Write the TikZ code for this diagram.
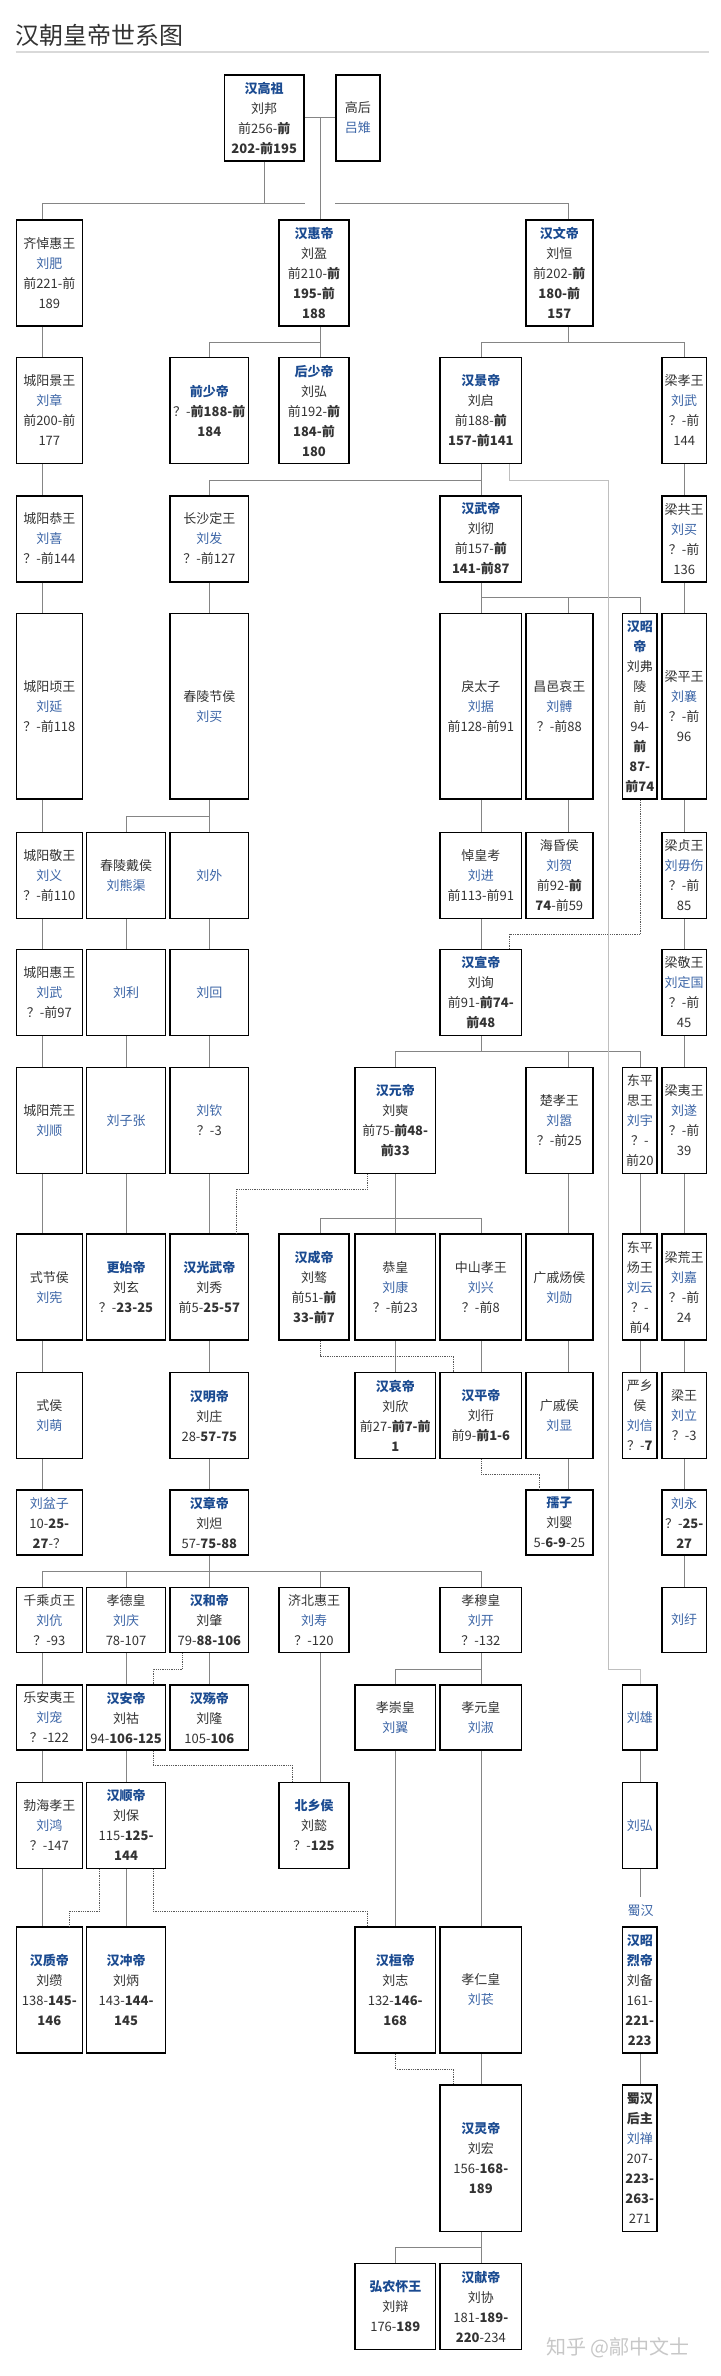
\documentclass[tikz,border=0pt]{standalone}
\usepackage{fontspec}
\setmainfont{Noto Sans CJK SC}
\usetikzlibrary{positioning}

\definecolor{txt}{HTML}{333333}
\definecolor{empblue}{HTML}{1B4B91}
\definecolor{nmblue}{HTML}{3D66A7}
\definecolor{lnkgray}{HTML}{858585}

\newcommand{\emname}[1]{\textcolor{empblue}{\textbf{#1}}}
\newcommand{\lkname}[1]{\textcolor{nmblue}{#1}}

% box centres of the columns
\def\xA{49.35}  \def\xB{126.05} \def\xC{209.35}
\def\xD{314}    \def\xE{395.25} \def\xF{480.85}
\def\xG{559.3}  \def\xH{639.75} \def\xI{684.2}
% where the lines of each column run
\def\lA{42.7}   \def\lB{126.2}  \def\lC{209.8}
\def\lD{320}    \def\lE{395.8}  \def\lF{481.2}
\def\lG{568}    \def\lH{640.5}  \def\lI{684.6}

\tikzset{
    psn/.style={draw=black, line width=1.6pt, fill=white, inner sep=0pt,
        align=center, text=txt, font=\fontsize{13}{20}\selectfont},
    wA/.style={minimum width=66},   wB/.style={minimum width=78.8},
    wC/.style={minimum width=78.4}, wD/.style={minimum width=70.3},
    wE/.style={minimum width=80.2}, wF/.style={minimum width=81.6},
    wG/.style={minimum width=67.1}, wH/.style={minimum width=34.8},
    wI/.style={minimum width=44.9},
    h3/.style={minimum height=65.2}, h4/.style={minimum height=86},
    h5/.style={minimum height=106.2}, h6/.style={minimum height=126.5},
    h7/.style={minimum height=146.5}, h9/.style={minimum height=185.8},
    lnk/.style={draw=lnkgray, line width=1pt},
    adopt/.style={draw=black!65, line width=0.8pt, densely dotted},
    far/.style={draw=black!25, line width=0.9pt},
}

\begin{document}
\begin{tikzpicture}[x=1pt, y=-1pt]
    \useasboundingbox (0,0) rectangle (720,2376);

    \node[anchor=base west, text=black!80, inner sep=0pt,
        font=\fontsize{24}{24}\selectfont] (title) at (15.6,45) {汉朝皇帝世系图};
    \draw[black!15, line width=2pt] (title.base west |- 0,52) -- (709,52);

    % generation 1
    \node[psn, h4, minimum width=79.7] (gaozu) at (264.2,118)
        {\emname{汉高祖}\\刘邦\\前256-\textbf{前}\\\textbf{202-前195}};
    \node[psn, h4, minimum width=44] (gaohou) at (357.85,118) {高后\\\lkname{吕雉}};

    % generation 2
    \node[psn, wA, h5] (qidh) at (\xA,273) {齐悼惠王\\\lkname{刘肥}\\前221-前\\189};
    \node[psn, wD, h5] (hui) at (\xD,273)
        {\emname{汉惠帝}\\刘盈\\前210-\textbf{前}\\\textbf{195-前}\\\textbf{188}};
    \node[psn, wG, h5] (wen) at (\xG,273)
        {\emname{汉文帝}\\刘恒\\前202-\textbf{前}\\\textbf{180-前}\\\textbf{157}};

    % generation 3
    \node[psn, wA, h5] (cyjing) at (\xA,410.5) {城阳景王\\\lkname{刘章}\\前200-前\\177};
    \node[psn, wC, h5] (qianshao) at (\xC,410.5) {\emname{前少帝}\\？-\textbf{前188-前}\\\textbf{184}};
    \node[psn, wD, h5] (houshao) at (\xD,410.5)
        {\emname{后少帝}\\刘弘\\前192-\textbf{前}\\\textbf{184-前}\\\textbf{180}};
    \node[psn, wF, h5] (jing) at (\xF,410.5)
        {\emname{汉景帝}\\刘启\\前188-\textbf{前}\\\textbf{157-前141}};
    \node[psn, wI, h5] (liangxiao) at (\xI,410.5) {梁孝王\\\lkname{刘武}\\？-前\\144};

    % generation 4
    \node[psn, wA, h4] (cygong) at (\xA,538.85) {城阳恭王\\\lkname{刘喜}\\？-前144};
    \node[psn, wC, h4] (csding) at (\xC,538.85) {长沙定王\\\lkname{刘发}\\？-前127};
    \node[psn, wF, h4] (wu) at (\xF,538.85)
        {\emname{汉武帝}\\刘彻\\前157-\textbf{前}\\\textbf{141-前87}};
    \node[psn, wI, h4] (lianggong) at (\xI,538.85) {梁共王\\\lkname{刘买}\\？-前\\136};

    % generation 5
    \node[psn, wA, h9] (cyqing) at (\xA,706.35) {城阳顷王\\\lkname{刘延}\\？-前118};
    \node[psn, wC, h9] (cljie) at (\xC,706.35) {春陵节侯\\\lkname{刘买}};
    \node[psn, wF, h9] (lie) at (\xF,706.35) {戾太子\\\lkname{刘据}\\前128-前91};
    \node[psn, wG, h9] (changyi) at (\xG,706.35) {昌邑哀王\\\lkname{刘髆}\\？-前88};
    \node[psn, wH, h9] (zhao) at (\xH,706.35)
        {\emname{汉昭}\\\emname{帝}\\刘弗\\陵\\前\\94-\\\textbf{前}\\\textbf{87-}\\\textbf{前74}};
    \node[psn, wI, h9] (liangping) at (\xI,706.35) {梁平王\\\lkname{刘襄}\\？-前\\96};

    % generation 6
    \node[psn, wA, h4] (cyjingw) at (\xA,875.35) {城阳敬王\\\lkname{刘义}\\？-前110};
    \node[psn, wB, h4] (cldai) at (\xB,875.35) {春陵戴侯\\\lkname{刘熊渠}};
    \node[psn, wC, h4] (liuwai) at (\xC,875.35) {\lkname{刘外}};
    \node[psn, wF, h4] (daohk) at (\xF,875.35) {悼皇考\\\lkname{刘进}\\前113-前91};
    \node[psn, wG, h4] (haihun) at (\xG,875.35)
        {海昏侯\\\lkname{刘贺}\\前92-\textbf{前}\\\textbf{74}-前59};
    \node[psn, wI, h4] (liangzhen) at (\xI,875.35) {梁贞王\\\lkname{刘毋伤}\\？-前\\85};

    % generation 7
    \node[psn, wA, h4] (cyhui) at (\xA,992.5) {城阳惠王\\\lkname{刘武}\\？-前97};
    \node[psn, wB, h4] (liuli) at (\xB,992.5) {\lkname{刘利}};
    \node[psn, wC, h4] (liuhui) at (\xC,992.5) {\lkname{刘回}};
    \node[psn, wF, h4] (xuan) at (\xF,992.5)
        {\emname{汉宣帝}\\刘询\\前91-\textbf{前74-}\\\textbf{前48}};
    \node[psn, wI, h4] (liangjing) at (\xI,992.5) {梁敬王\\\lkname{刘定国}\\？-前\\45};

    % generation 8
    \node[psn, wA, h5] (cyhuang) at (\xA,1120.5) {城阳荒王\\\lkname{刘顺}};
    \node[psn, wB, h5] (liuzz) at (\xB,1120.5) {\lkname{刘子张}};
    \node[psn, wC, h5] (liuqin) at (\xC,1120.5) {\lkname{刘钦}\\？-3};
    \node[psn, wE, h5] (yuan) at (\xE,1120.5)
        {\emname{汉元帝}\\刘奭\\前75-\textbf{前48-}\\\textbf{前33}};
    \node[psn, wG, h5] (chuxiao) at (\xG,1120.5) {楚孝王\\\lkname{刘嚣}\\？-前25};
    \node[psn, wH, h5] (dpsi) at (\xH,1120.5) {东平\\思王\\\lkname{刘宇}\\？-\\前20};
    \node[psn, wI, h5] (liangyi) at (\xI,1120.5) {梁夷王\\\lkname{刘遂}\\？-前\\39};

    % generation 9
    \node[psn, wA, h5] (shijie) at (\xA,1287.15) {式节侯\\\lkname{刘宪}};
    \node[psn, wB, h5] (gengshi) at (\xB,1287.15) {\emname{更始帝}\\刘玄\\？-\textbf{23-25}};
    \node[psn, wC, h5] (guangwu) at (\xC,1287.15) {\emname{汉光武帝}\\刘秀\\前5-\textbf{25-57}};
    \node[psn, wD, h5] (cheng) at (\xD,1287.15)
        {\emname{汉成帝}\\刘骜\\前51-\textbf{前}\\\textbf{33-前7}};
    \node[psn, wE, h5] (gonghuang) at (\xE,1287.15) {恭皇\\\lkname{刘康}\\？-前23};
    \node[psn, wF, h5] (zsxiao) at (\xF,1287.15) {中山孝王\\\lkname{刘兴}\\？-前8};
    \node[psn, wG, h5] (gqyang) at (\xG,1287.15) {广戚炀侯\\\lkname{刘勋}};
    \node[psn, wH, h5] (dpyang) at (\xH,1287.15) {东平\\炀王\\\lkname{刘云}\\？-\\前4};
    \node[psn, wI, h5] (lianghuang) at (\xI,1287.15) {梁荒王\\\lkname{刘嘉}\\？-前\\24};

    % generation 10
    \node[psn, wA, h4] (shihou) at (\xA,1415.5) {式侯\\\lkname{刘萌}};
    \node[psn, wC, h4] (ming) at (\xC,1415.5) {\emname{汉明帝}\\刘庄\\28-\textbf{57-75}};
    \node[psn, wE, h4] (ai) at (\xE,1415.5)
        {\emname{汉哀帝}\\刘欣\\前27-\textbf{前7-前}\\\textbf{1}};
    \node[psn, wF, h4] (ping) at (\xF,1415.5) {\emname{汉平帝}\\刘衎\\前9-\textbf{前1-6}};
    \node[psn, wG, h4] (gqhou) at (\xG,1415.5) {广戚侯\\\lkname{刘显}};
    \node[psn, wH, h4] (yanxiang) at (\xH,1415.5) {严乡\\侯\\\lkname{刘信}\\？-\textbf{7}};
    \node[psn, wI, h4] (liangwang) at (\xI,1415.5) {梁王\\\lkname{刘立}\\？-3};

    % generation 11
    \node[psn, wA, h3] (penzi) at (\xA,1522.65) {\lkname{刘盆子}\\10-\textbf{25-}\\\textbf{27}-？};
    \node[psn, wC, h3] (zhang) at (\xC,1522.65) {\emname{汉章帝}\\刘炟\\57-\textbf{75-88}};
    \node[psn, wG, h3] (ruzi) at (\xG,1522.65) {\emname{孺子}\\刘婴\\5-\textbf{6-9}-25};
    \node[psn, wI, h3] (liuyong) at (\xI,1522.65) {\lkname{刘永}\\？-\textbf{25-}\\\textbf{27}};

    % generation 12
    \node[psn, wA, h3] (qczhen) at (\xA,1620) {千乘贞王\\\lkname{刘伉}\\？-93};
    \node[psn, wB, h3] (xiaode) at (\xB,1620) {孝德皇\\\lkname{刘庆}\\78-107};
    \node[psn, wC, h3] (he) at (\xC,1620) {\emname{汉和帝}\\刘肇\\79-\textbf{88-106}};
    \node[psn, wD, h3] (jbhui) at (\xD,1620) {济北惠王\\\lkname{刘寿}\\？-120};
    \node[psn, wF, h3] (xiaomu) at (\xF,1620) {孝穆皇\\\lkname{刘开}\\？-132};
    \node[psn, wI, h3] (liuyu) at (\xI,1620) {\lkname{刘纡}};

    % generation 13
    \node[psn, wA, h3] (layi) at (\xA,1717.5) {乐安夷王\\\lkname{刘宠}\\？-122};
    \node[psn, wB, h3] (an) at (\xB,1717.5) {\emname{汉安帝}\\刘祜\\94-\textbf{106-125}};
    \node[psn, wC, h3] (shang) at (\xC,1717.5) {\emname{汉殇帝}\\刘隆\\105-\textbf{106}};
    \node[psn, wE, h3] (xiaochong) at (\xE,1717.5) {孝崇皇\\\lkname{刘翼}};
    \node[psn, wF, h3] (xiaoyuan) at (\xF,1717.5) {孝元皇\\\lkname{刘淑}};
    \node[psn, wH, h3] (liuxiong) at (\xH,1717.5) {\lkname{刘雄}};

    % generation 14
    \node[psn, wA, h4] (bhxiao) at (\xA,1825.35) {勃海孝王\\\lkname{刘鸿}\\？-147};
    \node[psn, wB, h4] (shun) at (\xB,1825.35)
        {\emname{汉顺帝}\\刘保\\115-\textbf{125-}\\\textbf{144}};
    \node[psn, wD, h4] (beixiang) at (\xD,1825.35) {\emname{北乡侯}\\刘懿\\？-\textbf{125}};
    \node[psn, wH, h4] (liuhong) at (\xH,1825.35) {\lkname{刘弘}};

    \node[text=nmblue, inner sep=0pt, font=\fontsize{13}{20}\selectfont]
        (shuhan) at (\lH,1911) {蜀汉};

    % generation 15
    \node[psn, wA, h6] (zhi) at (\xA,1990) {\emname{汉质帝}\\刘缵\\138-\textbf{145-}\\\textbf{146}};
    \node[psn, wB, h6] (chong) at (\xB,1990) {\emname{汉冲帝}\\刘炳\\143-\textbf{144-}\\\textbf{145}};
    \node[psn, wE, h6] (huan) at (\xE,1990) {\emname{汉桓帝}\\刘志\\132-\textbf{146-}\\\textbf{168}};
    \node[psn, wF, h6] (xiaoren) at (\xF,1990) {孝仁皇\\\lkname{刘苌}};
    \node[psn, wH, h6] (zhaolie) at (\xH,1990)
        {\emname{汉昭}\\\emname{烈帝}\\刘备\\161-\\\textbf{221-}\\\textbf{223}};

    % generation 16
    \node[psn, wF, h7] (ling) at (\xF,2158.3) {\emname{汉灵帝}\\刘宏\\156-\textbf{168-}\\\textbf{189}};
    \node[psn, wH, h7] (houzhu) at (\xH,2158.3)
        {\textbf{蜀汉}\\\textbf{后主}\\\lkname{刘禅}\\207-\\\textbf{223-}\\\textbf{263-}\\271};

    % generation 17
    \node[psn, wE, h4] (hongnong) at (\xE,2306.5) {\emname{弘农怀王}\\刘辩\\176-\textbf{189}};
    \node[psn, wF, h4] (xian) at (\xF,2306.5)
        {\emname{汉献帝}\\刘协\\181-\textbf{189-}\\\textbf{220}-234};

    \node[anchor=base west, text=black!22, inner sep=0pt,
        font=\fontsize{20}{20}\selectfont] (mark) at (546,2354) {知乎 @鄗中文士};

    % marriage and first generation
    \draw[lnk] (gaozu.east) -- (gaohou.west);
    \draw[lnk] (\lD,0 |- gaozu.east) -- (\lD,0 |- hui.north);
    \draw[lnk] (gaozu.south) -- (gaozu.south |- 0,204);
    \draw[lnk] (\lA,0 |- qidh.north) |- (gaozu.east |- 0,204);
    \draw[lnk] (gaohou.west |- 0,204) -| (\lG,0 |- wen.north);

    % families with several children
    \draw[lnk] (\lD,0 |- hui.south) -- (\lD,0 |- houshao.north);
    \draw[lnk] (\lC,0 |- qianshao.north) |- (\lD,342.7);
    \draw[lnk] (\lG,0 |- wen.south) -- (\lG,342.7);
    \draw[lnk] (\lF,0 |- jing.north) |- (\lI,342.7) -- (\lI,0 |- liangxiao.north);
    \draw[lnk] (\lF,0 |- jing.south) -- (\lF,0 |- wu.north);
    \draw[lnk] (\lC,0 |- csding.north) |- (\lF,480);
    \draw[lnk] (\lF,0 |- wu.south) -- (\lF,0 |- lie.north);
    \draw[lnk] (\lF,597.3) -| (\lH,0 |- zhao.north);
    \draw[lnk] (\lG,597.3) -- (\lG,0 |- changyi.north);
    \draw[lnk] (\lC,0 |- cljie.south) -- (\lC,0 |- liuwai.north);
    \draw[lnk] (\lB,0 |- cldai.north) |- (\lC,816.7);
    \draw[lnk] (\lF,0 |- xuan.south) -- (\lF,1051.7);
    \draw[lnk] (\lE,0 |- yuan.north) |- (\lH,1051.7) -- (\lH,0 |- dpsi.north);
    \draw[lnk] (\lG,1051.7) -- (\lG,0 |- chuxiao.north);
    \draw[lnk] (\lE,0 |- yuan.south) -- (\lE,0 |- gonghuang.north);
    \draw[lnk] (\lD,0 |- cheng.north) |- (\lF,1218.3) -- (\lF,0 |- zsxiao.north);
    \draw[lnk] (\lC,0 |- zhang.south) -- (\lC,0 |- he.north);
    \draw[lnk] (\lA,0 |- qczhen.north) |- (\lF,1571.7) -- (\lF,0 |- xiaomu.north);
    \draw[lnk] (\lB,1571.7) -- (\lB,0 |- xiaode.north);
    \draw[lnk] (\lD,1571.7) -- (\lD,0 |- jbhui.north);
    \draw[lnk] (\lF,0 |- xiaomu.south) -- (\lF,0 |- xiaoyuan.north);
    \draw[lnk] (\lE,0 |- xiaochong.north) |- (\lF,1669);
    \draw[lnk] (\lF,0 |- ling.south) -- (\lF,0 |- xian.north);
    \draw[lnk] (\lE,0 |- hongnong.north) |- (\lF,2247.7);
    \draw[lnk] (\lH,0 |- liuhong.south) -- (\lH,1896.7);

    % single lines of descent
    \foreach \a/\b in {qidh/cyjing, cyjing/cygong, cygong/cyqing, cyqing/cyjingw,
            cyjingw/cyhui, cyhui/cyhuang, cyhuang/shijie, shijie/shihou,
            shihou/penzi, qczhen/layi, layi/bhxiao, bhxiao/zhi}
        \draw[lnk] (\lA,0 |- \a.south) -- (\lA,0 |- \b.north);
    \foreach \a/\b in {cldai/liuli, liuli/liuzz, liuzz/gengshi, xiaode/an,
            an/shun, shun/chong}
        \draw[lnk] (\lB,0 |- \a.south) -- (\lB,0 |- \b.north);
    \foreach \a/\b in {csding/cljie, liuwai/liuhui, liuhui/liuqin, liuqin/guangwu,
            guangwu/ming, ming/zhang, he/shang}
        \draw[lnk] (\lC,0 |- \a.south) -- (\lC,0 |- \b.north);
    \draw[lnk] (\lD,0 |- jbhui.south) -- (\lD,0 |- beixiang.north);
    \foreach \a/\b in {gonghuang/ai, xiaochong/huan}
        \draw[lnk] (\lE,0 |- \a.south) -- (\lE,0 |- \b.north);
    \foreach \a/\b in {lie/daohk, daohk/xuan, zsxiao/ping, xiaoyuan/xiaoren,
            xiaoren/ling}
        \draw[lnk] (\lF,0 |- \a.south) -- (\lF,0 |- \b.north);
    \foreach \a/\b in {changyi/haihun, chuxiao/gqyang, gqyang/gqhou, gqhou/ruzi}
        \draw[lnk] (\lG,0 |- \a.south) -- (\lG,0 |- \b.north);
    \foreach \a/\b in {dpsi/dpyang, dpyang/yanxiang, liuxiong/liuhong, zhaolie/houzhu}
        \draw[lnk] (\lH,0 |- \a.south) -- (\lH,0 |- \b.north);
    \foreach \a/\b in {liangxiao/lianggong, lianggong/liangping, liangping/liangzhen,
            liangzhen/liangjing, liangjing/liangyi, liangyi/lianghuang,
            lianghuang/liangwang, liangwang/liuyong, liuyong/liuyu}
        \draw[lnk] (\lI,0 |- \a.south) -- (\lI,0 |- \b.north);

    % succession by adoption
    \draw[adopt] (\lH,0 |- zhao.south) |- (509.6,934.3) -- (509.6,0 |- xuan.north);
    \draw[adopt] (367.2,0 |- yuan.south) |- (236.4,1189.3) -- (236.4,0 |- guangwu.north);
    \draw[adopt] (\lD,0 |- cheng.south) |- (453.5,1356) -- (453.5,0 |- ping.north);
    \draw[adopt] (\lF,0 |- ping.south) |- (539.5,1474) -- (539.5,0 |- ruzi.north);
    \draw[adopt] (182.7,0 |- he.south) |- (153.3,1669) -- (153.3,0 |- an.north);
    \draw[adopt] (153.3,0 |- an.south) |- (292.5,1765.7) -- (292.5,0 |- beixiang.north);
    \draw[adopt] (99.6,0 |- shun.south) |- (69.8,1911) -- (69.8,0 |- zhi.north);
    \draw[adopt] (153.3,0 |- shun.south) |- (367.2,1911) -- (367.2,0 |- huan.north);
    \draw[adopt] (\lE,0 |- huan.south) |- (453.5,2069.3) -- (453.5,0 |- ling.north);

    % distant descent to Shu Han
    \draw[far] (509.6,0 |- jing.south) |- (608.4,480) |- (\lH,1669)
        -- (\lH,0 |- liuxiong.north);
\end{tikzpicture}
\end{document}
